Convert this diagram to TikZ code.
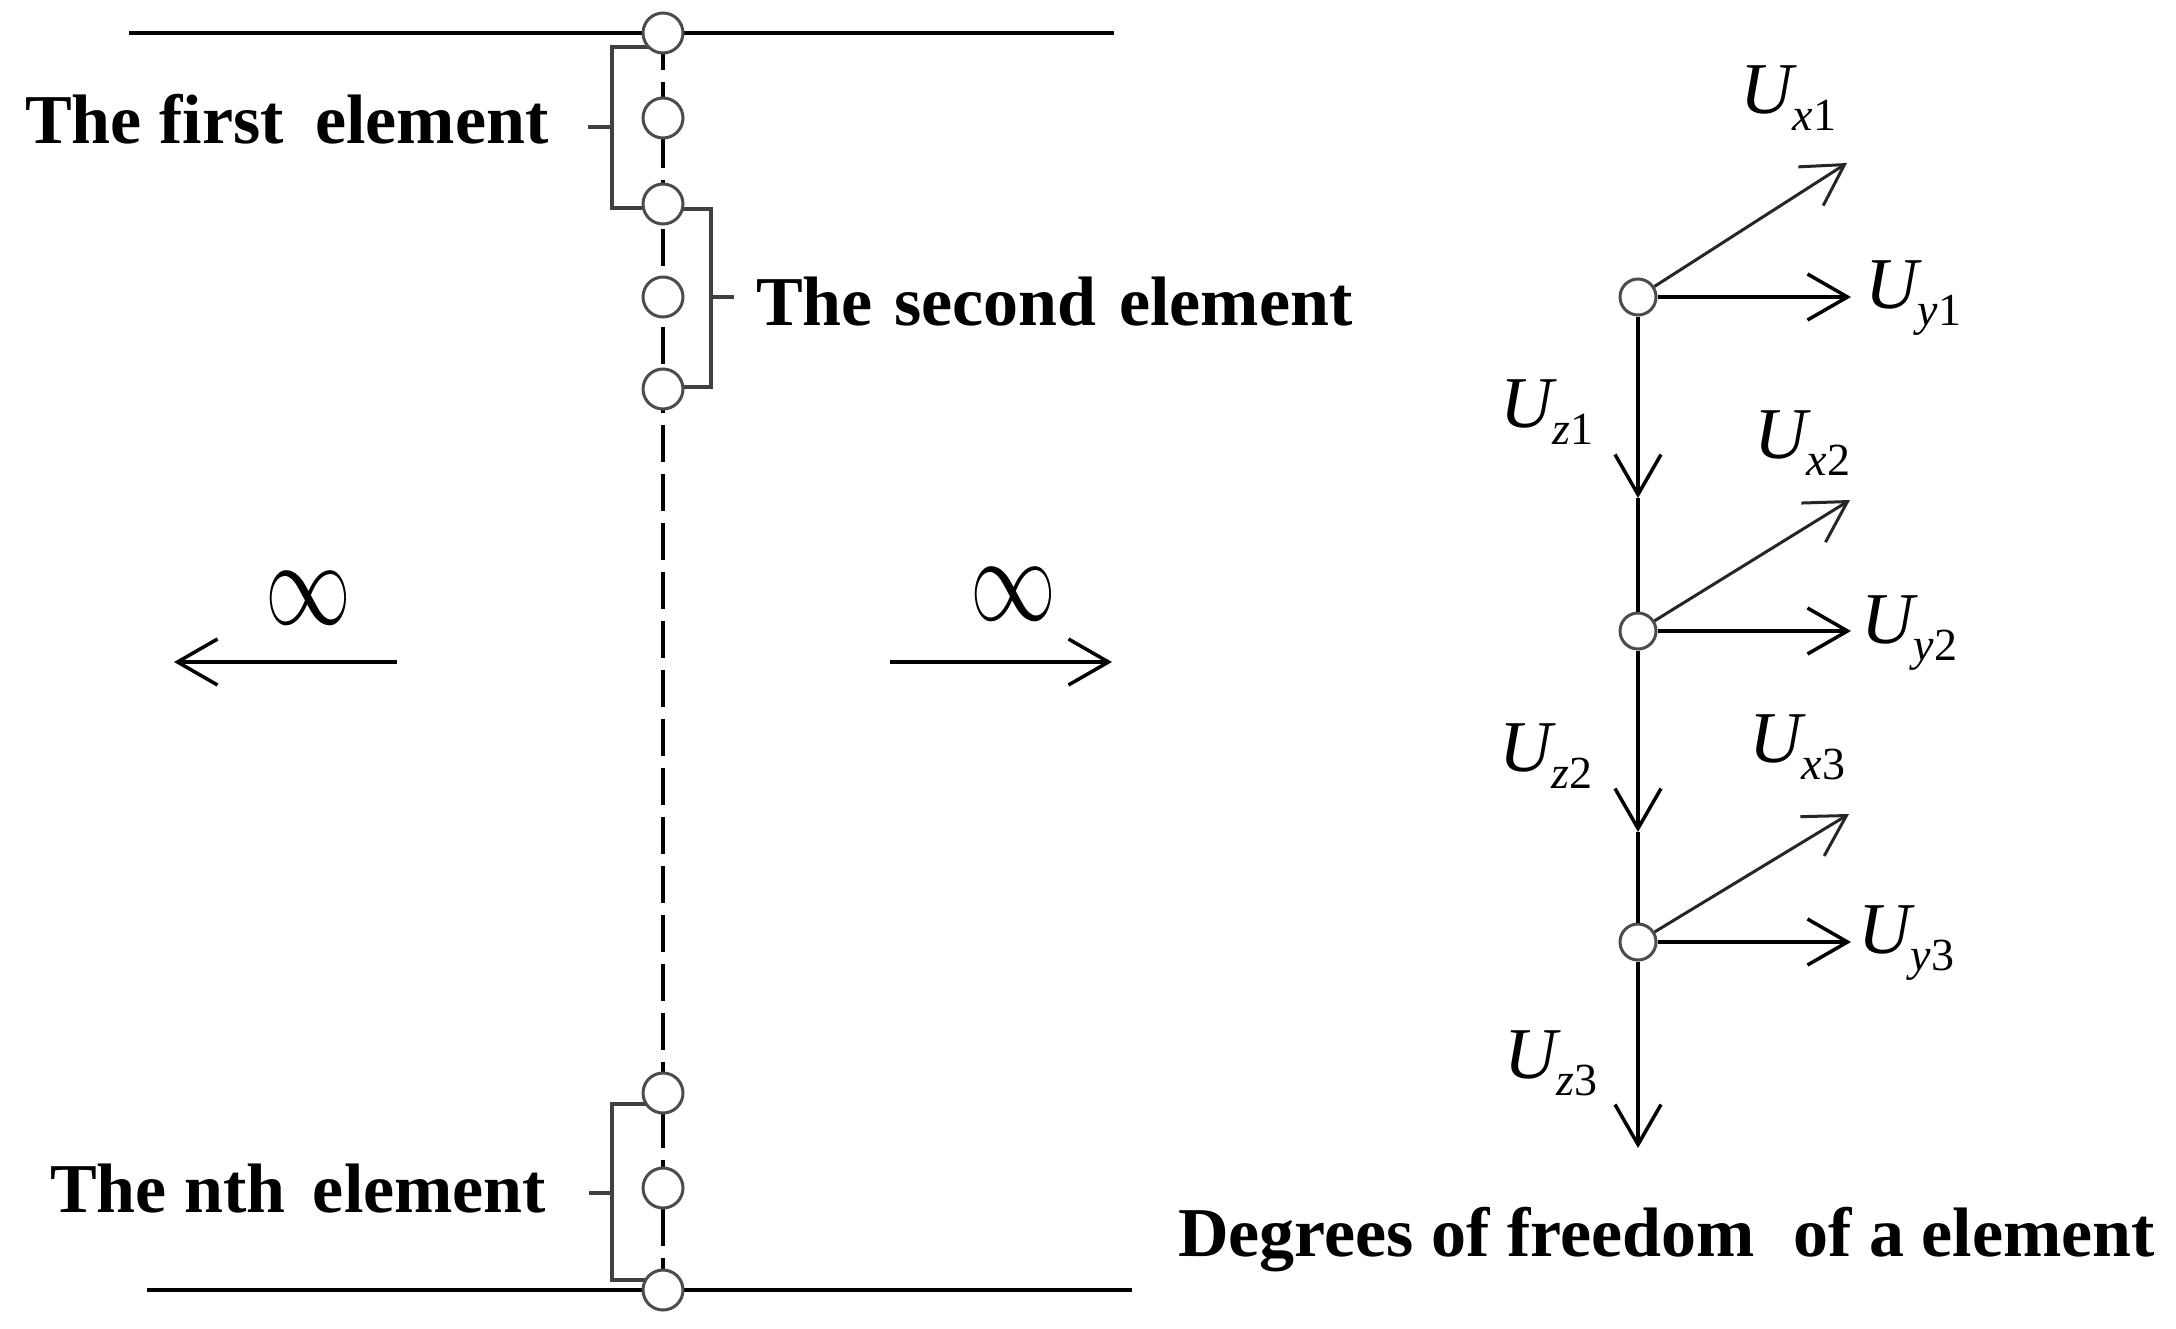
\documentclass[tikz,border=0pt]{standalone}
\usepackage{fontspec}
\setmainfont{Liberation Serif}
\usetikzlibrary{arrows.meta}
\newcommand{\Ulab}[2]{{\fontsize{73}{80}\selectfont\itshape U}{\fontsize{46}{50}\selectfont\raisebox{-17pt}{\itshape #1\upshape #2}}}
\tikzset{
  lbl/.style={inner sep=0, anchor=base west, font=\fontsize{70}{84}\selectfont\bfseries},
  ulbl/.style={inner sep=0, anchor=base west},
  ln/.style={line width=3.5pt},
  brk/.style={line width=3.5pt, draw=black!75},
  cir/.style={circle, draw=black!70, line width=3pt, fill=white, minimum size=40pt, inner sep=0},
  rcir/.style={circle, draw=black!70, line width=3pt, fill=white, minimum size=36pt, inner sep=0},
  arr/.style={line width=3.5pt, -{Straight Barb[length=40pt,width=46pt]}},
  darr/.style={line width=3pt, draw=black!85, -{Straight Barb[length=40pt,width=46pt]}},
  inf/.style={inner sep=0, font=\fontsize{24.88}{30}\selectfont},
}
\begin{document}
\begin{tikzpicture}[x=1pt,y=-1pt]
\useasboundingbox (0,0) rectangle (2176,1328);
% left column
\coordinate (tl) at (129,33);
\coordinate (tr) at (1114,33);
\coordinate (bl) at (147,1290);
\coordinate (br) at (1132,1290);
\coordinate (p1) at (663,33);
\coordinate (p8) at (663,1290);
\draw[ln] (tl) -- (tr);
\draw[ln] (bl) -- (br);
\draw[line width=3.5pt, dash pattern=on 37pt off 12pt] (p1) -- (p8);
% brackets
\draw[brk] (655,47) -- (612,47) -- (612,208) -- (655,208);
\draw[brk] (612,127) -- (588,127);
\draw[brk] (670,209) -- (711,209) -- (711,387) -- (670,387);
\draw[brk] (711,297) -- (734,297);
\draw[brk] (655,1104) -- (612,1104) -- (612,1280) -- (655,1280);
\draw[brk] (612,1193) -- (589,1193);
% circles
\node[cir] (c1) at (663,33) {};
\node[cir] (c2) at (663,118) {};
\node[cir] (c3) at (663,204) {};
\node[cir] (c4) at (663,297) {};
\node[cir] (c5) at (663,389) {};
\node[cir] (c6) at (663,1093) {};
\node[cir] (c7) at (663,1188) {};
\node[cir] (c8) at (663,1290) {};
% labels
\node[lbl] (t1) at (25,143) {The first\hspace{14pt} element};
\node[lbl] (t2) at (756,325) {The\hspace{4pt} second\hspace{5pt} element};
\node[lbl] (t3) at (50,1212) {The nth\hspace{10pt} element};
\node[lbl] (t4) at (1178,1256) {Degrees of freedom\hspace{21pt} of a element};
% infinity arrows
\node[inf] (i1) at (308,598) {\scalebox{3.45}[4.9]{$\infty$}};
\node[inf] (i2) at (1013,594) {\scalebox{3.45}[4.9]{$\infty$}};
\coordinate (la0) at (397,662);
\coordinate (la1) at (174,662);
\coordinate (ra0) at (890,662);
\coordinate (ra1) at (1112,662);
\draw[arr] (la0) -- (la1);
\draw[arr] (ra0) -- (ra1);
% right diagram
\node[rcir] (n1) at (1638,297) {};
\node[rcir] (n2) at (1638,631) {};
\node[rcir] (n3) at (1638,942) {};
\coordinate (z1) at (1638,498);
\coordinate (z2) at (1638,832);
\coordinate (z3) at (1638,1148);
\coordinate (y1) at (1851,297);
\coordinate (y2) at (1851,631);
\coordinate (y3) at (1851,942);
\coordinate (x1) at (1847,163);
\coordinate (x2) at (1850,500);
\coordinate (x3) at (1849,814);
\draw[arr] (n1) -- (z1);
\draw[ln] (z1) -- (n2);
\draw[arr] (n2) -- (z2);
\draw[ln] (z2) -- (n3);
\draw[arr] (n3) -- (z3);
\draw[arr] (n1) -- (y1);
\draw[arr] (n2) -- (y2);
\draw[arr] (n3) -- (y3);
\draw[darr] (n1) -- (x1);
\draw[darr] (n2) -- (x2);
\draw[darr] (n3) -- (x3);
\node[ulbl] (lx1) at (1740,113) {\Ulab{x}{1}};
\node[ulbl] (ly1) at (1865,308) {\Ulab{y}{1}};
\node[ulbl] (lz1) at (1500,427) {\Ulab{z}{1}};
\node[ulbl] (lx2) at (1754,458) {\Ulab{x}{2}};
\node[ulbl] (ly2) at (1861,643) {\Ulab{y}{2}};
\node[ulbl] (lz2) at (1499,771) {\Ulab{z}{2}};
\node[ulbl] (lx3) at (1749,762) {\Ulab{x}{3}};
\node[ulbl] (ly3) at (1858,953) {\Ulab{y}{3}};
\node[ulbl] (lz3) at (1504,1078) {\Ulab{z}{3}};
\end{tikzpicture}
\end{document}
